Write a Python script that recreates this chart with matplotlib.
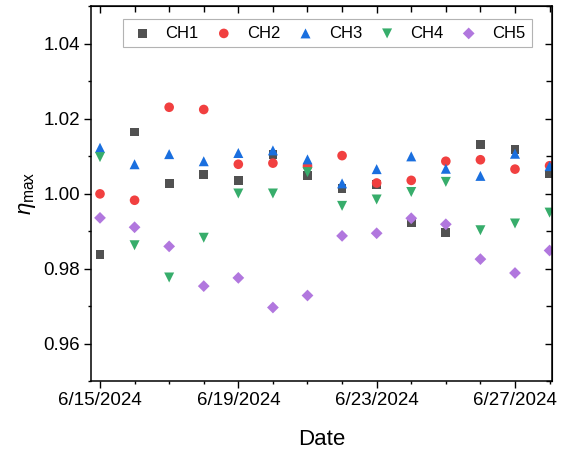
import datetime as dt

import matplotlib
matplotlib.use("Agg")
import matplotlib.dates as mdates
import matplotlib.pyplot as plt
from matplotlib.ticker import FuncFormatter, MultipleLocator

plt.rcParams["font.family"] = ["Liberation Sans", "DejaVu Sans"]
plt.rcParams["mathtext.fontset"] = "custom"
plt.rcParams["mathtext.rm"] = "Liberation Sans"
plt.rcParams["mathtext.it"] = "Liberation Sans:italic"

# daily measurements, 6/15/2024 .. 6/28/2024
dates = [dt.date(2024, 6, 15) + dt.timedelta(days=i) for i in range(14)]
ch1 = [0.9838, 1.0164, 1.0027, 1.0051, 1.0035, 1.0104, 1.0047,
       1.0014, 1.0024, 0.9923, 0.9896, 1.0131, 1.0118, 1.0052]
ch2 = [0.9999, 0.9982, 1.0230, 1.0224, 1.0078, 1.0081, 1.0073,
       1.0101, 1.0028, 1.0035, 1.0086, 1.0090, 1.0065, 1.0074]
ch3 = [1.0122, 1.0078, 1.0105, 1.0086, 1.0108, 1.0115, 1.0091,
       1.0027, 1.0065, 1.0099, 1.0066, 1.0047, 1.0106, 1.0073]
ch4 = [1.0097, 0.9862, 0.9776, 0.9882, 1.0000, 1.0000, 1.0057,
       0.9967, 0.9984, 1.0004, 1.0031, 0.9902, 0.9920, 0.9949]
ch5 = [0.9935, 0.9910, 0.9859, 0.9753, 0.9775, 0.9696, 0.9728,
       0.9887, 0.9894, 0.9934, 0.9918, 0.9825, 0.9788, 0.9848]

series = [("CH1", ch1, "s", "#515151", 40),
          ("CH2", ch2, "o", "#F14040", 48),
          ("CH3", ch3, "^", "#1A6FDF", 52),
          ("CH4", ch4, "v", "#37AD6B", 52),
          ("CH5", ch5, "D", "#B177DE", 36)]

fig = plt.figure(figsize=(5.62, 4.51), dpi=100)
ax = fig.add_axes([91 / 562, 1 - 381 / 451, 461 / 562, 375 / 451])

for name, vals, mk, col, size in series:
    ax.scatter(dates, vals, marker=mk, s=size, color=col, edgecolors="none", label=name)

x0 = mdates.date2num(dates[0])
ax.set_xlim(x0 - 0.26, x0 + 13.07)
ax.set_ylim(0.95, 1.05)

ax.xaxis.set_major_locator(mdates.DayLocator(bymonthday=[15, 19, 23, 27]))
ax.xaxis.set_minor_locator(mdates.DayLocator())
ax.xaxis.set_major_formatter(FuncFormatter(
    lambda v, _: "{d.month}/{d.day}/{d.year}".format(d=mdates.num2date(v))))
ax.yaxis.set_major_locator(MultipleLocator(0.02))
ax.yaxis.set_minor_locator(MultipleLocator(0.01))
ax.yaxis.set_major_formatter(FuncFormatter(lambda v, _: f"{v:.2f}"))

ax.tick_params(which="both", direction="out", labelsize=13.5, width=1.0, pad=3,
               top=False, right=False)
ax.tick_params(which="major", length=5)
ax.tick_params(which="minor", length=2.5)
for s in ax.spines.values():
    s.set_linewidth(1.1)

# inward mirror ticks on top and right
sec_x = ax.secondary_xaxis("top")
sec_x.xaxis.set_major_locator(mdates.DayLocator(bymonthday=[15, 19, 23, 27]))
sec_x.xaxis.set_minor_locator(mdates.DayLocator())
sec_x.tick_params(which="both", direction="in", labeltop=False, width=1.0)
sec_x.tick_params(which="major", length=5)
sec_x.tick_params(which="minor", length=4)
sec_y = ax.secondary_yaxis("right")
sec_y.yaxis.set_major_locator(MultipleLocator(0.02))
sec_y.yaxis.set_minor_locator(MultipleLocator(0.01))
sec_y.tick_params(which="both", direction="in", labelright=False, width=1.0)
sec_y.tick_params(which="major", length=5)
sec_y.tick_params(which="minor", length=4)

ax.set_xlabel("Date", fontsize=16, labelpad=14)
ax.set_ylabel(r"$\eta_{\rm max}$", fontsize=16, labelpad=4)

leg = ax.legend(ncol=5, loc="upper center", bbox_to_anchor=(0.513, 0.965),
                borderaxespad=0, fontsize=12, frameon=True, fancybox=False,
                handlelength=1.5, handletextpad=0.65, columnspacing=0.75,
                borderpad=0.4, scatterpoints=1)
leg.get_frame().set_edgecolor("#a0a0a0")
leg.get_frame().set_linewidth(0.8)

fig.savefig("out.png", dpi=100)
